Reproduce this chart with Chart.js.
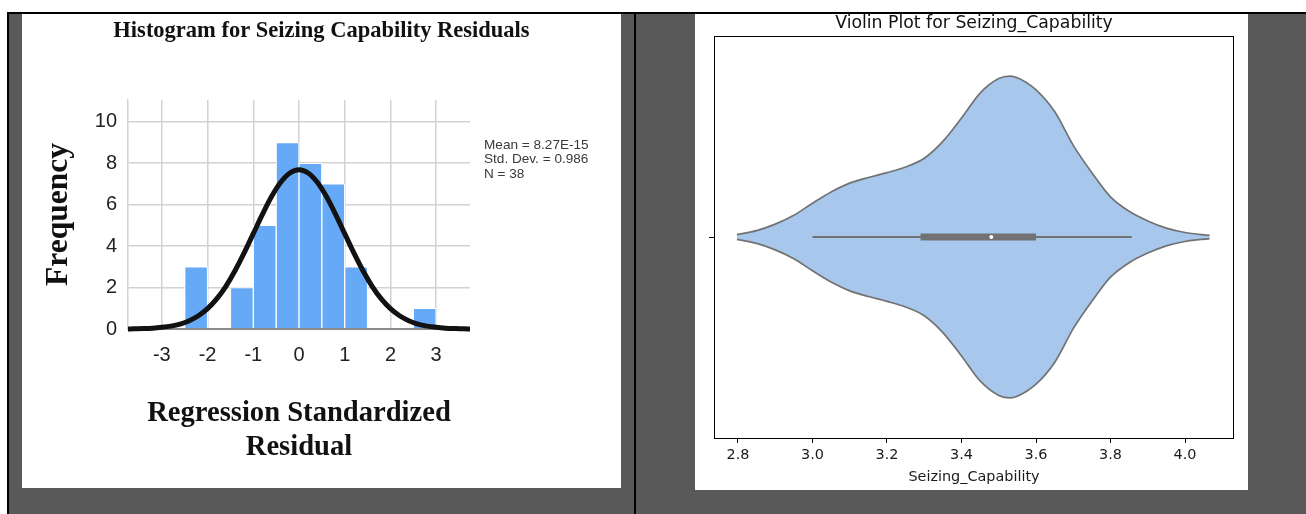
<!DOCTYPE html>
<html>
<head>
<meta charset="utf-8">
<title>Seizing Capability – residual histogram and violin plot</title>
<script src="https://cdn.jsdelivr.net/npm/chart.js@4/dist/chart.umd.min.js"></script>
<style>
  html, body { margin: 0; padding: 0; }
  body { width: 1306px; height: 514px; position: relative; background: #fff; overflow: hidden; }
  .bg      { position: absolute; left: 9px; top: 14px; right: 0; bottom: 0; background: #595959; }
  .rule-h  { position: absolute; left: 7px; top: 12px; right: 0; height: 2px; background: #000; }
  .rule-v  { position: absolute; top: 12px; bottom: 0; width: 2px; background: #000; }
  .panel   { position: absolute; background: #fff; }
  .panel canvas { display: block; }
</style>
</head>
<body>
<div class="bg"></div>
<div class="rule-h"></div>
<div class="rule-v" style="left:7px"></div>
<div class="rule-v" style="left:634px"></div>

<div class="panel" style="left:22px; top:14px; width:599px; height:474px;">
  <canvas id="chart-hist" width="599" height="474"></canvas>
</div>
<div class="panel" style="left:695px; top:14px; width:553px; height:476px;">
  <canvas id="chart-violin" width="553" height="476"></canvas>
</div>

<script>
// ─── Histogram data (regression standardized residuals, bin width 0.5) ─────

const histBinCenters = [-2.25, -1.75, -1.25, -0.75, -0.25, 0.25, 0.75, 1.25, 1.75, 2.25, 2.75];
const histCounts     = [3, 0, 2, 5, 9, 8, 7, 3, 0, 0, 1];
const histXTicks     = [-3, -2, -1, 0, 1, 2, 3];
const histYTicks     = [0, 2, 4, 6, 8, 10];

// normal curve
const curveX = [-3.8, -3.6, -3.4, -3.2, -3.0, -2.8, -2.6, -2.4, -2.2, -2.0,
                -1.8, -1.6, -1.4, -1.2, -1.0, -0.8, -0.6, -0.4, -0.2, 0.0,
                0.2, 0.4, 0.6, 0.8, 1.0, 1.2, 1.4, 1.6, 1.8, 2.0,
                2.2, 2.4, 2.6, 2.8, 3.0, 3.2, 3.4, 3.6, 3.8];
const curveY = [0.00, 0.01, 0.02, 0.04, 0.08, 0.14, 0.24, 0.40, 0.64, 0.98,
                1.45, 2.06, 2.81, 3.67, 4.60, 5.53, 6.39, 7.08, 7.53, 7.69,
                7.53, 7.08, 6.39, 5.53, 4.60, 3.67, 2.81, 2.06, 1.45, 0.98,
                0.64, 0.40, 0.24, 0.14, 0.08, 0.04, 0.02, 0.01, 0.00];

const histStats = ['Mean = 8.27E-15', 'Std. Dev. = 0.986', 'N = 38'];

// ─── Violin data (Seizing_Capability) ───────────────────────────────────────

const violinX = [2.797, 2.85, 2.90, 2.95, 3.00, 3.05, 3.10, 3.15, 3.20, 3.25,
                 3.30, 3.35, 3.40, 3.45, 3.50, 3.53, 3.55, 3.60, 3.65, 3.70,
                 3.75, 3.80, 3.85, 3.90, 3.95, 4.00, 4.066];
// relative density (1 = widest point)
const violinDensity = [0.015, 0.04, 0.08, 0.135, 0.21, 0.28, 0.335, 0.37, 0.40, 0.435,
                       0.49, 0.595, 0.74, 0.895, 0.985, 1.0, 0.99, 0.915, 0.78, 0.57,
                       0.40, 0.25, 0.16, 0.10, 0.055, 0.028, 0.01];
const violinWhiskers = [3.0, 3.857];
const violinQuartiles = [3.29, 3.60];
const violinMedian = 3.48;
const violinXTicks = [2.8, 3.0, 3.2, 3.4, 3.6, 3.8, 4.0];

// ─── Common ─────────────────────────────────────────────────────────────────

Chart.defaults.animation = false;
Chart.defaults.plugins.legend.display = false;
Chart.defaults.plugins.tooltip.enabled = false;

const SERIF = "'Liberation Serif', 'Times New Roman', serif";
const SANS  = "'Liberation Sans', Arial, sans-serif";
const DEJAVU = "'DejaVu Sans', sans-serif";

const fixTicks = (values) => (axis) => {
  axis.ticks = values.map((v) => ({ value: v }));
};

// ─── Histogram ──────────────────────────────────────────────────────────────

const statsText = {
  id: 'statsText',
  afterDraw(chart) {
    const { ctx, chartArea } = chart;
    ctx.save();
    ctx.fillStyle = '#3a3a3a';
    ctx.font = `13.6px ${SANS}`;
    ctx.textBaseline = 'middle';
    histStats.forEach((t, i) => {
      ctx.fillText(t, chartArea.right + 14, chartArea.top + 45 + i * 14.5);
    });
    ctx.restore();
  },
};

new Chart(document.getElementById('chart-hist'), {
  type: 'bar',
  data: {
    datasets: [
      {
        type: 'line',
        data: curveX.map((x, i) => ({ x, y: curveY[i] })),
        borderColor: '#121212',
        borderWidth: 5,
        pointRadius: 0,
        cubicInterpolationMode: 'monotone',
        clip: { left: 0, right: 0, top: 6, bottom: 6 },
        order: 0,
      },
      {
        data: histBinCenters.map((x, i) => ({ x, y: histCounts[i] })),
        backgroundColor: '#66aaf7',
        borderColor: '#ffffff',
        borderWidth: 1,
        barPercentage: 1,
        categoryPercentage: 1,
        order: 1,
      },
    ],
  },
  plugins: [statsText],
  options: {
    responsive: false,
    devicePixelRatio: 1,
    plugins: {
      title: {
        display: true,
        text: 'Histogram for Seizing Capability Residuals',
        color: '#111',
        font: { family: SERIF, size: 22.5, weight: 'bold', lineHeight: 1.2 },
        padding: { top: 3.5, bottom: 55.5 },
      },
    },
    scales: {
      x: {
        type: 'linear',
        offset: false,
        min: -3.74,
        max: 3.74,
        afterBuildTicks: fixTicks(histXTicks),
        afterFit: (s) => { s.height = 159; },
        grid: { color: '#d2d2d2', lineWidth: 1.5, drawTicks: false, offset: false },
        border: { display: false },
        ticks: {
          padding: 14,
          maxRotation: 0,
          autoSkip: false,
          color: '#222',
          font: { family: SANS, size: 20 },
          callback: (v) => String(v),
        },
        title: {
          display: true,
          text: ['Regression Standardized', 'Residual'],
          color: '#111',
          font: { family: SERIF, size: 28.6, weight: 'bold', lineHeight: 1.22 },
          padding: { top: 0, bottom: 22.5 },
        },
      },
      y: {
        min: 0,
        max: 11.05,
        afterBuildTicks: fixTicks(histYTicks),
        afterFit: (s) => { s.width = 106; },
        grid: {
          color: (c) => (c.tick && c.tick.value === 0 ? '#8c8c8c' : '#d2d2d2'),
          lineWidth: (c) => (c.tick && c.tick.value === 0 ? 2 : 1.5),
          drawTicks: false,
        },
        border: { display: true, color: '#d2d2d2', width: 1.5 },
        ticks: {
          padding: 11,
          color: '#222',
          font: { family: SANS, size: 20 },
          callback: (v) => String(v),
        },
        title: {
          display: true,
          text: 'Frequency',
          color: '#111',
          font: { family: SERIF, size: 31.5, weight: 'bold', lineHeight: 1.2 },
          padding: { top: 17.5, bottom: 0 },
        },
      },
      // empty right-hand strip that holds the stats text
      side: {
        type: 'linear',
        position: 'right',
        afterFit: (s) => { s.width = 151; },
        grid: { display: false },
        border: { display: false },
        ticks: { display: false },
      },
    },
  },
});

// ─── Violin plot ────────────────────────────────────────────────────────────

const frameBox = {
  id: 'frameBox',
  afterDraw(chart) {
    const { ctx, chartArea: a } = chart;
    ctx.save();
    ctx.strokeStyle = '#000';
    ctx.lineWidth = 1;
    ctx.strokeRect(Math.round(a.left) + 0.5, Math.round(a.top) + 0.5,
                   Math.round(a.right - a.left) - 1, Math.round(a.bottom - a.top));
    ctx.restore();
  },
};

const VIOLIN_FILL = '#a7c8ec';
const VIOLIN_LINE = '#727272';
const HALF_WIDTH = 0.4;

new Chart(document.getElementById('chart-violin'), {
  type: 'line',
  data: {
    datasets: [
      {
        data: violinX.map((x, i) => ({ x, y: HALF_WIDTH * violinDensity[i] })),
        borderColor: VIOLIN_LINE,
        borderWidth: 1.7,
        backgroundColor: VIOLIN_FILL,
        fill: '+1',
        pointRadius: 0,
        cubicInterpolationMode: 'monotone',
        order: 4,
      },
      {
        data: violinX.map((x, i) => ({ x, y: -HALF_WIDTH * violinDensity[i] })),
        borderColor: VIOLIN_LINE,
        borderWidth: 1.7,
        fill: false,
        pointRadius: 0,
        cubicInterpolationMode: 'monotone',
        order: 3,
      },
      {
        data: violinWhiskers.map((x) => ({ x, y: 0 })),
        borderColor: VIOLIN_LINE,
        borderWidth: 2,
        pointRadius: 0,
        order: 2,
      },
      {
        data: violinQuartiles.map((x) => ({ x, y: 0 })),
        borderColor: VIOLIN_LINE,
        borderWidth: 7,
        borderCapStyle: 'butt',
        pointRadius: 0,
        order: 1,
      },
      {
        data: [{ x: violinMedian, y: 0 }],
        showLine: false,
        pointRadius: 2,
        pointBorderWidth: 0,
        pointBackgroundColor: '#ffffff',
        order: 0,
      },
    ],
  },
  plugins: [frameBox],
  options: {
    responsive: false,
    devicePixelRatio: 1,
    layout: { padding: { left: 0, right: 14, top: 0, bottom: 0 } },
    plugins: {
      title: {
        display: true,
        fullSize: false,
        text: 'Violin Plot for Seizing_Capability',
        color: '#111',
        font: { family: DEJAVU, size: 17.3, weight: 'normal', lineHeight: 1 },
        padding: { top: 0.5, bottom: 4.2 },
      },
    },
    scales: {
      x: {
        type: 'linear',
        min: 2.7356,
        max: 4.1315,
        afterBuildTicks: fixTicks(violinXTicks),
        afterFit: (s) => { s.height = 52; },
        grid: { drawOnChartArea: false, drawTicks: true, tickLength: 5, color: '#000', lineWidth: 1 },
        border: { display: false },
        ticks: {
          padding: 3.4,
          maxRotation: 0,
          autoSkip: false,
          color: '#1a1a1a',
          font: { family: DEJAVU, size: 14.4 },
          callback: (v) => v.toFixed(1),
        },
        title: {
          display: true,
          text: 'Seizing_Capability',
          color: '#1a1a1a',
          font: { family: DEJAVU, size: 14.4, lineHeight: 1.2 },
          padding: { top: 0, bottom: 4.4 },
        },
      },
      y: {
        type: 'linear',
        min: -0.5,
        max: 0.5,
        afterBuildTicks: fixTicks([0]),
        afterFit: (s) => { s.width = 19; },
        grid: { drawOnChartArea: false, drawTicks: true, tickLength: 5, color: '#000', lineWidth: 1 },
        border: { display: false },
        ticks: { padding: 0, callback: () => '' },
      },
    },
  },
});
</script>
</body>
</html>
